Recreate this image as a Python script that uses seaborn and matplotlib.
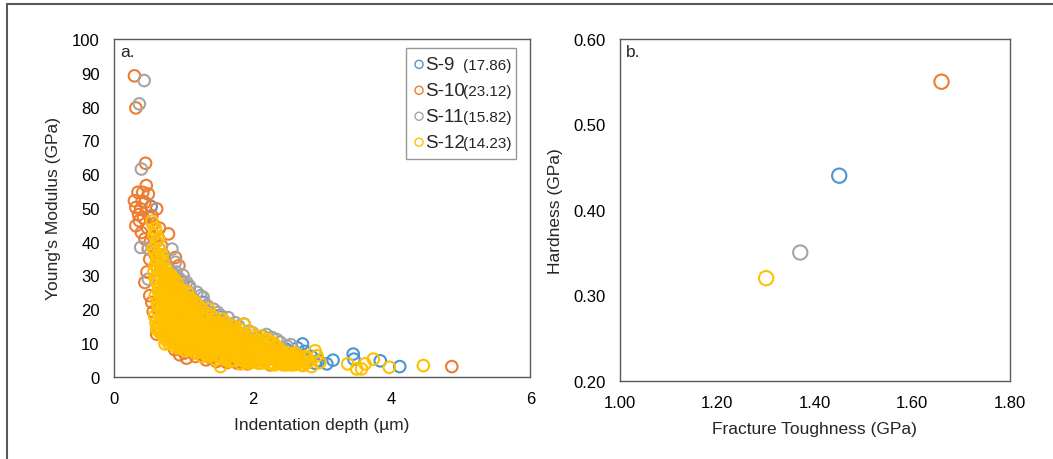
import matplotlib
matplotlib.use("Agg")
import pandas as pd
import matplotlib.pyplot as plt
import seaborn as sns
from matplotlib.lines import Line2D
from matplotlib.ticker import FormatStrFormatter, MultipleLocator

samples = ["S-9", "S-10", "S-11", "S-12"]
sample_notes = ["(17.86)", "(23.12)", "(15.82)", "(14.23)"]
colors = ["#4A95D6", "#ED7D31", "#A5A5A5", "#FFC000"]

# panel a: indentation depth (um) vs Young's modulus (GPa)
s9_depth = [0.54, 1.09, 2.72, 3.16, 3.07, 3.45, 3.46, 3.84, 4.12, 2.43,
            2.48, 2.33, 2.60, 2.55, 2.80, 2.90, 1.30, 1.70, 2.00, 2.20,
            1.50, 0.90, 1.20, 1.90, 2.10, 2.75, 2.38, 0.70, 1.00, 1.60,
            2.65, 2.95,
            2.25, 2.35, 2.45, 2.55, 2.65, 2.85, 1.85, 1.45]
s9_modulus = [50.4, 26.5, 9.7, 4.9, 3.8, 6.7, 5.2, 4.7, 3.0, 3.8,
              8.2, 9.2, 6, 4.5, 5, 4, 22, 14, 11, 9,
              18, 30, 15, 8, 6, 7.5, 6.8, 35, 24, 16,
              5.5, 4.8,
              7, 5.5, 6.5, 7, 8.5, 6, 12, 17]

s10_depth = [0.30, 0.32, 0.46, 0.47, 0.35, 0.42, 0.50, 0.30, 0.45, 0.32,
             0.39, 0.62, 0.55, 0.37, 0.32, 0.57, 0.40, 0.79, 0.45, 0.69,
             0.60, 0.52, 0.89, 0.94, 0.75, 0.48, 0.45, 0.52, 0.57, 0.55,
             0.62, 0.64, 0.70, 1.00, 1.10, 1.20, 1.29, 1.40, 1.50, 1.70,
             2.08, 2.20, 1.90, 2.40, 4.87, 0.66, 0.58, 0.50, 0.85, 1.05,
             0.95, 1.60, 0.36, 0.43, 0.49, 0.53, 0.41, 0.59, 0.67, 0.72,
             0.80, 0.84, 1.15, 1.30, 1.80, 2.00, 0.98, 1.25,
             0.65, 0.70, 0.75, 0.80, 0.85, 0.90, 0.95, 1.00, 1.05, 1.10,
             1.15, 1.20, 1.25, 1.30, 1.35, 1.40, 1.45, 1.50, 1.55, 1.60,
             1.65, 1.70, 1.75, 1.80, 1.85, 1.90, 1.95, 2.00, 2.05, 2.10,
             0.72, 0.88, 1.02, 1.18, 1.33, 1.48, 1.63, 1.78, 1.93, 2.25]
s10_modulus = [89.1, 79.6, 63.2, 56.6, 54.6, 54.6, 54.1, 52.1, 51.6, 50.1,
               49.7, 49.7, 47.7, 46.2, 44.7, 45.2, 42.7, 42.3, 40.8, 38.8,
               36, 34.8, 35.3, 32.9, 33, 31, 27.9, 24, 19.3, 22,
               12.6, 14.6, 17, 28, 24, 20, 6.2, 5.5, 17, 14,
               11.2, 10, 4.8, 6, 3.0, 44, 41, 38, 30, 5.5,
               6.5, 5, 48, 47, 44, 40, 52, 37, 31, 36,
               28, 26, 22, 19, 12, 11, 8, 16,
               20, 25, 14, 22, 12, 19, 10, 15, 8, 13,
               17, 7, 11, 9, 14, 6, 10, 7, 12, 5,
               9, 6, 11, 4.5, 8, 5.5, 7, 4.5, 6, 5,
               12, 8, 7, 6, 5, 4.5, 4.2, 4, 3.8, 3.5]

s11_depth = [0.44, 0.37, 0.40, 0.39, 0.50, 0.84, 0.89, 0.50, 1.09, 1.29,
             1.44, 1.61, 1.88, 2.28, 2.40, 1.00, 1.20, 1.50, 1.75, 2.00,
             2.15, 2.50, 0.70, 0.95, 1.35, 2.60, 1.90, 2.30, 1.10, 0.80,
             0.60, 0.75, 1.15, 1.40, 1.70, 2.10, 2.45,
             1.05, 1.25, 1.55, 1.65, 1.80, 1.95, 2.20, 2.35, 2.55, 0.65,
             0.90,
             0.98, 1.08, 1.18, 1.28, 1.38, 1.48, 1.58, 1.68, 1.78, 1.88,
             1.98, 2.08, 2.18, 2.28, 2.38, 2.48, 2.58, 2.68, 0.78, 0.88]
s11_modulus = [87.7, 80.8, 61.5, 38.3, 37.8, 37.8, 33.9, 28.9, 26.9, 23.5,
               20.0, 16.1, 15.6, 11.6, 10.2, 30, 25, 19, 16, 13,
               12, 9, 36, 29, 21, 7, 12.5, 7.5, 17, 24,
               40, 33, 23, 18, 14, 11, 8,
               28, 24, 18, 17.5, 15, 13.5, 12.5, 11, 9.5, 38,
               31,
               27, 25, 22, 20, 19, 17, 15, 14, 13, 12,
               11, 10.5, 9.5, 9, 8.5, 7.5, 6.5, 6, 32, 30]

s12_depth = [0.55, 0.58, 0.60, 0.62, 0.57, 0.65, 0.63, 0.60, 0.68, 0.66,
             0.62, 0.70, 0.72, 0.65, 0.68, 0.74, 0.70, 0.62, 0.66, 0.75,
             0.78, 0.80, 0.76, 0.72, 0.74, 0.80, 0.82, 0.84, 0.86, 0.85,
             0.88, 0.90, 0.92, 0.90, 0.94, 0.92, 0.96, 0.98, 0.97, 1.00,
             1.02, 1.00, 1.04, 1.05, 1.06, 1.08, 1.10, 1.12, 1.10, 1.15,
             1.16, 1.18, 1.20, 1.22, 1.24, 1.25, 1.28, 1.30, 1.32, 1.35,
             1.36, 1.40, 1.42, 1.45, 1.48, 1.50, 1.54, 1.52, 1.55, 1.58,
             1.60, 1.62, 1.65, 1.68, 1.70, 1.75, 1.78, 1.80, 1.83, 1.85,
             1.88, 1.90, 1.92, 1.95, 1.98, 2.00, 2.02, 2.05, 2.10, 2.12,
             2.15, 2.20, 2.23, 2.25, 2.30, 2.35, 2.40, 2.45, 2.50, 2.55,
             2.58, 2.62, 2.65, 2.68, 2.73, 2.75, 2.80, 2.85, 2.90, 2.93,
             2.97, 3.37, 3.50, 3.57, 3.62, 3.74, 3.97, 4.46,
             0.70, 0.72, 0.74, 0.76, 0.78, 0.79, 0.81, 0.83, 0.83, 0.85,
             0.87, 0.87, 0.89, 0.91, 0.93, 0.93, 0.95, 0.95, 0.97, 0.99,
             1.01, 1.03, 1.03, 1.05, 1.07, 1.07, 1.09, 1.11, 1.13, 1.14,
             1.17, 1.19, 1.21, 1.23, 1.26, 1.27, 1.29, 1.31, 1.33, 1.34,
             1.38, 1.39, 1.41, 1.44, 1.46, 1.47, 1.51, 1.53, 1.56, 1.59,
             1.61, 1.63, 1.66, 1.67, 1.71, 1.73, 1.76, 1.79, 1.81, 1.84,
             1.87, 1.89, 1.93, 1.96, 1.99, 2.03, 2.07, 2.09, 2.13, 2.17,
             2.19, 2.24, 2.28, 2.33, 2.38, 2.43, 2.48, 2.53, 2.60, 2.70,
             0.61, 0.63, 0.60, 0.62, 0.64, 0.65, 0.63, 0.66, 0.67, 0.68, 0.66, 0.69,
             0.71, 0.72, 0.70, 0.73, 0.71, 0.75, 0.76, 0.74, 0.77, 0.75, 0.79, 0.80, 0.78, 0.81, 0.79,
             0.83, 0.84, 0.82, 0.85, 0.83, 0.87, 0.88, 0.86, 0.89, 0.87, 0.91, 0.92, 0.90, 0.93, 0.91,
             0.96, 0.97, 0.95, 0.98, 0.96, 1.01, 1.02, 1.00, 1.03, 1.01, 1.06, 1.07, 1.05, 1.08, 1.06,
             1.12, 1.13, 1.11, 1.14, 1.12, 1.18, 1.19, 1.17, 1.20, 1.18, 1.24, 1.25, 1.23, 1.26,
             1.30, 1.31, 1.29, 1.32,
             1.37, 1.38, 1.36, 1.39, 1.37, 1.43, 1.44, 1.42, 1.45, 1.50, 1.51, 1.49, 1.52,
             1.57, 1.58, 1.56, 1.59, 1.57,
             1.64, 1.65, 1.63, 1.66, 1.72, 1.73, 1.71, 1.74, 1.72, 1.80, 1.81, 1.79, 1.82,
             1.88, 1.89, 1.87, 1.90,
             1.96, 1.97, 1.95, 1.98, 2.04, 2.05, 2.03, 2.06, 2.12, 2.13, 2.11, 2.14, 2.12,
             2.20, 2.21, 2.19, 2.22, 2.28, 2.29, 2.27, 2.30,
             2.36, 2.37, 2.35, 2.44, 2.45, 2.43, 2.52, 2.53, 2.51, 2.60, 2.61, 2.59,
             2.70, 2.71, 2.78, 2.79,
             0.59, 0.60, 0.58, 0.59, 0.60,
             0.63, 0.64, 0.62, 0.63,
             0.69, 0.70, 0.68, 0.69, 0.70,
             0.73, 0.74, 0.72, 0.73,
             0.77, 0.78, 0.76, 0.77,
             0.81, 0.82, 0.80, 0.81,
             0.85, 0.86, 0.84, 0.85, 0.86,
             0.89, 0.90, 0.88, 0.89,
             0.94, 0.95, 0.93, 0.94, 0.95,
             0.99, 1.00, 0.98, 0.99,
             1.04, 1.05, 1.03, 1.04,
             1.09, 1.10, 1.08, 1.09, 1.10,
             1.15, 1.16, 1.14, 1.15,
             1.21, 1.22, 1.20, 1.21, 1.22,
             1.27, 1.28, 1.26, 1.27, 1.28,
             1.34, 1.35, 1.33, 1.34,
             1.40, 1.41, 1.39, 1.40,
             1.47, 1.48, 1.46, 1.47, 1.48,
             1.54, 1.55, 1.53,
             1.61, 1.62, 1.60, 1.61, 1.62,
             1.68, 1.69, 1.67, 1.68,
             1.76, 1.77, 1.75, 1.76,
             1.84, 1.85, 1.83, 1.84,
             1.92, 1.93, 1.91, 1.92,
             2.00, 2.01, 1.99, 2.00,
             2.08, 2.09, 2.07, 2.08,
             2.16, 2.17, 2.15, 2.16,
             2.24, 2.25, 2.23, 2.24,
             2.32, 2.33, 2.31, 2.32,
             2.40, 2.41, 2.39,
             2.48, 2.49, 2.47,
             2.56, 2.57,
             2.65, 2.66]
s12_modulus = [46, 42, 44, 40, 38, 41, 36, 33, 35, 30,
               28, 32, 28, 25, 22, 26, 19, 14, 16, 23,
               30, 27, 20, 15, 9.7, 12, 18, 24, 29, 21,
               15, 26, 22, 18, 13, 10, 24, 19, 16, 25,
               21, 14, 7.7, 11, 17, 23, 19, 14, 9, 21,
               12, 16, 8, 19, 14, 10, 17, 12, 7, 15,
               10, 13, 18, 9, 15, 11, 3.0, 6.5, 13, 8,
               15, 10, 6, 12, 9, 11, 7, 13, 3.8, 9,
               15.5, 11, 7, 4, 9, 12, 6, 8, 10, 5,
               7, 9, 3.8, 6, 8, 5, 7, 4, 6, 3.5,
               5, 7, 4, 5.2, 3.3, 6, 4.5, 3, 7.7, 6.2,
               4.2, 3.8, 2.3, 2.3, 3.8, 5.2, 2.8, 3.3,
               24, 21, 31, 27, 18, 24, 21, 15, 27, 17,
               23, 12, 20, 16, 25, 19, 12, 21, 22, 13,
               18, 15, 23, 20, 13, 10, 16, 21, 11, 17,
               19, 13, 15, 11, 16, 13, 9, 15, 11, 17,
               12, 9, 15, 12, 16, 10, 13, 9, 11, 13,
               7.5, 12, 9, 14, 11, 8, 13, 10, 8, 11,
               7, 9, 10, 7.5, 6, 9, 7, 5.5, 8, 6,
               4.5, 7, 5.5, 6.5, 4.5, 5.5, 4.8, 6, 4.2, 4.5,
               16, 22, 29, 35, 19, 26, 32, 38, 13, 20, 27, 33,
               12, 17, 23, 29, 34, 11, 15, 21, 27, 32, 10, 14, 20, 26, 29,
               11, 13, 19, 23, 30, 9, 14, 18, 24, 27, 10, 13, 19, 23, 28,
               9, 14, 17, 20, 26, 8, 11, 16, 20, 24, 9, 12, 15, 19, 25,
               8, 12, 16, 18, 23, 7, 10, 14, 18, 22, 8, 12, 15, 20,
               7, 10, 14, 19,
               6, 9, 13, 16, 20, 7, 10, 14, 17, 6, 8, 12, 16,
               5.5, 9, 12, 15, 17,
               6, 8, 11, 14, 5, 7, 10, 13, 15, 5.5, 8, 11, 14,
               4.5, 6, 9, 12,
               5, 8, 10, 13, 4.5, 7, 9, 11, 4, 6, 8, 10, 12,
               5, 7, 9, 11, 3.8, 6, 8, 10,
               4.5, 6.5, 9, 3.5, 5.5, 7.5, 4, 5, 7, 3.5, 5.5, 6.5,
               3.5, 5, 4, 5.5,
               18, 24, 31, 37, 43,
               15, 21, 28, 34,
               14, 18, 25, 31, 36,
               13, 19, 25, 30,
               12, 17, 23, 28,
               11, 16, 22, 27,
               10, 15, 20, 25, 28,
               11, 16, 21, 26,
               8.5, 11, 15, 21, 25,
               10, 12, 18, 22,
               9, 13, 17, 22,
               8, 11, 14, 18, 21,
               9, 13, 15, 20,
               8, 11, 13, 17, 21,
               6, 9, 11, 14, 18,
               8, 11, 14, 18,
               6.5, 8, 11, 15,
               5, 8, 11, 13, 16,
               6, 10, 14,
               5, 9, 11, 13, 16,
               4.5, 7, 10, 12,
               6, 9, 11, 14,
               5, 7, 10, 12,
               4.5, 6, 8, 11,
               5.5, 7, 9, 10.5,
               4, 6, 8, 10,
               4.5, 6, 9, 11,
               4, 5.5, 8, 10,
               3.5, 5, 7, 9,
               4, 6, 8,
               3.5, 5, 6.5,
               4.5, 6,
               4, 5.5]

# panel b: one value per sample
fracture_toughness = [1.45, 1.66, 1.37, 1.30]
hardness = [0.44, 0.55, 0.35, 0.32]

depths = [s9_depth, s10_depth, s11_depth, s12_depth]
moduli = [s9_modulus, s10_modulus, s11_modulus, s12_modulus]
df_a = pd.concat([pd.DataFrame({"depth": d, "modulus": m, "sample": s})
                  for d, m, s in zip(depths, moduli, samples)], ignore_index=True)
df_b = pd.DataFrame({"toughness": fracture_toughness, "hardness": hardness, "sample": samples})

sns.set_style("white")
plt.rcParams["font.family"] = ["Liberation Sans", "DejaVu Sans"]

fig = plt.figure(figsize=(10.53, 4.6), dpi=100)
ax1 = fig.add_axes([0.1079, 0.1789, 0.3957, 0.7341])
ax2 = fig.add_axes([0.5888, 0.1703, 0.3701, 0.7427])

spine_col = "#595959"
for ax in (ax1, ax2):
    for sp in ax.spines.values():
        sp.set_color(spine_col)
        sp.set_linewidth(1.0)
    ax.tick_params(length=0, labelsize=12, pad=10, colors="#000000")

# panel a
for s, c in zip(samples, colors):
    sub = df_a[df_a["sample"] == s]
    sns.scatterplot(data=sub, x="depth", y="modulus", ax=ax1, s=69,
                    facecolor="none", edgecolor=c, linewidth=1.5, label=s)
ax1.set_xlim(0, 6)
ax1.set_ylim(0, 100)
ax1.xaxis.set_major_locator(MultipleLocator(2))
ax1.yaxis.set_major_locator(MultipleLocator(10))
ax1.set_xlabel("Indentation depth (µm)", fontsize=12.5, labelpad=8)
ax1.set_ylabel("Young's Modulus (GPa)", fontsize=12.5, labelpad=8)
ax1.text(0.015, 0.985, "a.", transform=ax1.transAxes, fontsize=12.5, va="top", ha="left")

leg = ax1.legend(loc="upper left", bbox_to_anchor=(0.7017, 0.65, 0.264, 0.3225),
                 mode="expand", borderaxespad=0, fontsize=13.5, markerscale=0.7,
                 handlelength=0.55, handletextpad=0.05, labelspacing=0.47,
                 borderpad=0.42, frameon=True, fancybox=False)
leg.get_frame().set_edgecolor("#7f7f7f")
leg.get_frame().set_linewidth(1.0)
for h in leg.legend_handles:
    h.set_linewidth(1.0)
for t, note in zip(leg.get_texts(), sample_notes):
    ax1.annotate(note, xy=(1, 0), xycoords=(leg, t), xytext=(-3.0, 2.8),
                 textcoords="offset points", ha="right", va="baseline",
                 fontsize=11, zorder=6)

# panel b
for s, c in zip(samples, colors):
    sub = df_b[df_b["sample"] == s]
    sns.scatterplot(data=sub, x="toughness", y="hardness", ax=ax2, s=106,
                    facecolor="none", edgecolor=c, linewidth=1.5, legend=False)
ax2.set_xlim(1.0, 1.8)
ax2.set_ylim(0.2, 0.6)
ax2.xaxis.set_major_locator(MultipleLocator(0.2))
ax2.yaxis.set_major_locator(MultipleLocator(0.1))
ax2.xaxis.set_major_formatter(FormatStrFormatter("%.2f"))
ax2.yaxis.set_major_formatter(FormatStrFormatter("%.2f"))
ax2.set_xlabel("Fracture Toughness (GPa)", fontsize=12.5, labelpad=8)
ax2.set_ylabel("Hardness (GPa)", fontsize=12.5, labelpad=8)
ax2.text(0.015, 0.985, "b.", transform=ax2.transAxes, fontsize=12.5, va="top", ha="left")

# outer frame (top and left edges visible)
fig.add_artist(Line2D([0.0071, 1.0], [0.9885, 0.9885], color=spine_col, lw=1.5))
fig.add_artist(Line2D([0.0071, 0.0071], [0.0, 0.9885], color=spine_col, lw=1.5))

fig.savefig("out.png", dpi=100)
